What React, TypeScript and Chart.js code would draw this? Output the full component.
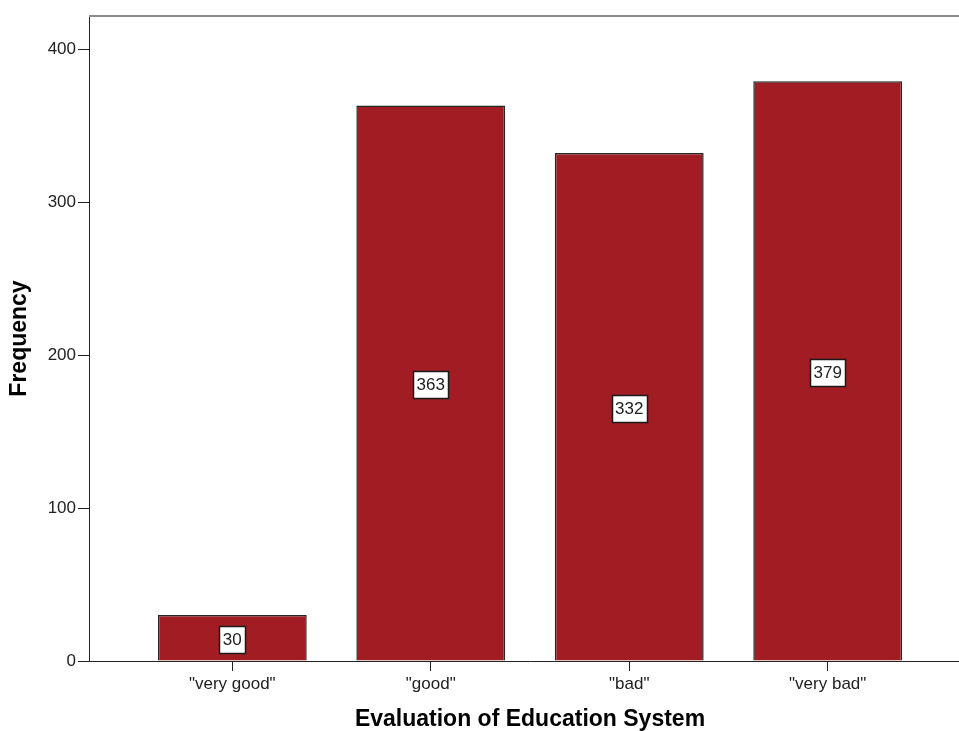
import React, { useEffect, useRef } from "react";
import { Chart, registerables } from "chart.js";

Chart.register(...registerables);

const categories = ['"very good"', '"good"', '"bad"', '"very bad"'];
const frequencies = [30, 363, 332, 379];
const yTickValues = [0, 100, 200, 300, 400];

const FONT = 'Arial, "Liberation Sans", sans-serif';

const framePlugin = {
  id: "frameTop",
  afterDraw(chart: any) {
    const { ctx, chartArea } = chart;
    ctx.save();
    ctx.strokeStyle = "#8c8c8c";
    ctx.lineWidth = 2;
    ctx.beginPath();
    ctx.moveTo(chartArea.left, chartArea.top);
    ctx.lineTo(chartArea.right + 20, chartArea.top);
    ctx.stroke();
    ctx.restore();
  },
};

const valueLabelPlugin = {
  id: "valueLabels",
  afterDatasetsDraw(chart: any) {
    const { ctx } = chart;
    const meta = chart.getDatasetMeta(0);
    const data = chart.data.datasets[0].data as any[];
    ctx.save();
    ctx.font = `17px ${FONT}`;
    ctx.textAlign = "center";
    ctx.textBaseline = "middle";
    meta.data.forEach((el: any, i: number) => {
      const text = String(data[i].y);
      const w = ctx.measureText(text).width + 7;
      const h = 27;
      const cx = el.x;
      const cy = (el.y + el.base) / 2 + 1.5;
      ctx.fillStyle = "#ffffff";
      ctx.fillRect(Math.round(cx - w / 2) + 0.5, Math.round(cy - h / 2) + 0.5, Math.round(w), h);
      ctx.strokeStyle = "#1a1a1a";
      ctx.lineWidth = 1.5;
      ctx.strokeRect(Math.round(cx - w / 2) + 0.5, Math.round(cy - h / 2) + 0.5, Math.round(w), h);
      ctx.fillStyle = "#222222";
      ctx.fillText(text, cx, cy + 1);
    });
    ctx.restore();
  },
};

export default function App() {
  const ref = useRef<HTMLCanvasElement | null>(null);

  useEffect(() => {
    if (!ref.current) return;
    const chart = new Chart(ref.current, {
      type: "bar",
      data: {
        datasets: [
          {
            label: "Frequency",
            data: frequencies.map((v, i) => ({ x: i, y: v })),
            backgroundColor: "#a11d23",
            borderColor: "#262626",
            borderWidth: 1.5,
            barPercentage: 0.75,
            categoryPercentage: 1,
          },
        ],
      },
      options: {
        animation: false,
        responsive: false,
        events: [],
        layout: { padding: { top: 16, left: 0, right: 0, bottom: 0 } },
        plugins: {
          legend: { display: false },
          tooltip: { enabled: false },
        },
        scales: {
          x: {
            type: "linear",
            min: -0.722,
            max: 3.722,
            offset: false,
            afterBuildTicks: (scale: any) => {
              scale.ticks = categories.map((_, i) => ({ value: i }));
            },
            afterFit: (scale: any) => {
              scale.height = 70;
            },
            ticks: {
              stepSize: 1,
              autoSkip: false,
              maxRotation: 0,
              padding: 3,
              color: "#222222",
              font: { family: FONT, size: 17 },
              callback: (v: any) => categories[Math.round(Number(v))] ?? "",
            },
            grid: {
              display: true,
              offset: false,
              drawOnChartArea: false,
              drawTicks: true,
              tickLength: 10,
              color: "#222222",
              lineWidth: 1,
            },
            border: { display: true, color: "#222222", width: 1 },
            title: {
              display: true,
              text: "Evaluation of Education System",
              color: "#000000",
              font: { family: FONT, size: 23, weight: "bold", lineHeight: 1 },
              padding: { top: 0, bottom: 0 },
            },
          },
          y: {
            type: "linear",
            min: 0,
            max: 421.57,
            afterBuildTicks: (scale: any) => {
              scale.ticks = yTickValues.map((v) => ({ value: v }));
            },
            afterFit: (scale: any) => {
              scale.width = 89;
            },
            ticks: {
              stepSize: 100,
              padding: 2,
              color: "#222222",
              font: { family: FONT, size: 17 },
            },
            grid: {
              display: true,
              drawOnChartArea: false,
              drawTicks: true,
              tickLength: 11,
              color: "#222222",
              lineWidth: 1,
            },
            border: { display: true, color: "#222222", width: 1 },
            title: {
              display: true,
              text: "Frequency",
              color: "#000000",
              font: { family: FONT, size: 23, weight: "bold", lineHeight: 1 },
              padding: { top: 8, bottom: 0 },
            },
          },
        },
      },
      plugins: [framePlugin, valueLabelPlugin],
    } as any);
    return () => chart.destroy();
  }, []);

  return (
    <div
      style={{
        position: "fixed",
        left: 0,
        top: 0,
        width: 959,
        height: 731,
        overflow: "hidden",
        background: "#ffffff",
      }}
    >
      <canvas ref={ref} width={971} height={731} style={{ display: "block" }} />
    </div>
  );
}
